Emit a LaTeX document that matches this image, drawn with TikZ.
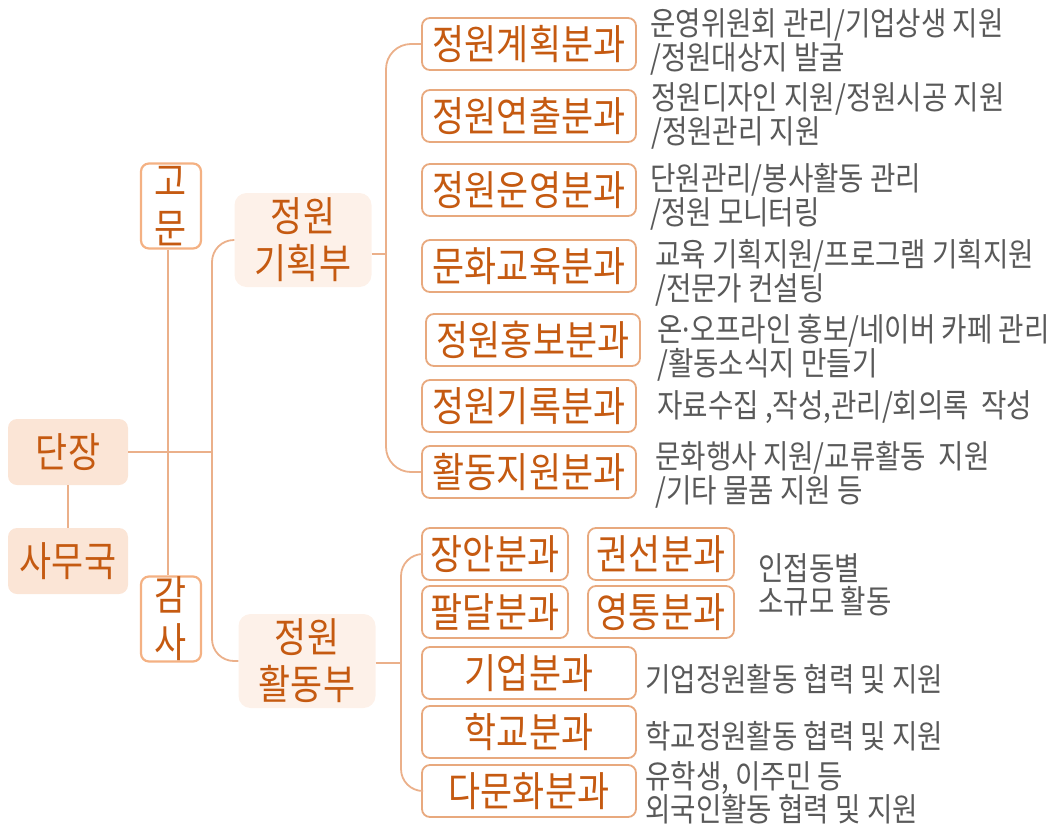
\documentclass[tikz,border=0pt]{standalone}
\usepackage{fontspec}
\setmainfont{Noto Sans CJK KR}[FakeStretch=0.85]
\newfontfamily\latinfont{Noto Sans}[FakeStretch=0.85]
\usetikzlibrary{positioning}

\definecolor{orgtext}{HTML}{C55A11}
\definecolor{chieffill}{HTML}{FBE5D6}
\definecolor{deptfill}{HTML}{FDF1E9}
\definecolor{aideline}{HTML}{F4B183}
\definecolor{unitline}{HTML}{E8A97E}
\definecolor{linkc}{HTML}{EBB08A}
\definecolor{notec}{HTML}{595959}

\newcommand\boxfont{\fontsize{41}{47}\selectfont}
\newcommand\notefont{\fontsize{32.5}{33.5}\selectfont}

\tikzset{
  link/.style={draw=linkc, line width=1.8pt},
  chief/.style={fill=chieffill, rounded corners=9pt, minimum width=120pt, minimum height=66pt, inner sep=0pt, text=orgtext, font=\boxfont},
  dept/.style={fill=deptfill, rounded corners=12pt, minimum width=137pt, minimum height=94pt, inner sep=0pt, text=orgtext, font=\boxfont, align=center},
  aide/.style={draw=aideline, line width=2.2pt, fill=white, rounded corners=8pt, minimum width=60pt, minimum height=85pt, inner sep=0pt, text=orgtext, font=\boxfont, align=center},
  unit/.style={draw=unitline, line width=1.8pt, fill=white, rounded corners=8pt, minimum width=214pt, minimum height=52pt, inner sep=0pt, text=orgtext, font=\boxfont},
  sunit/.style={unit, minimum width=146pt},
  note/.style={anchor=west, text=notec, font=\notefont, align=left, inner sep=0pt}
}

\begin{document}
\begin{tikzpicture}[x=1pt, y=-1pt]
  \useasboundingbox (0,0) rectangle (1052,825);

  % 단장, 고문, 감사
  \node[chief] (danjang) at (68,452) {단장};
  \node[chief] (samu) at (68,561) {사무국};
  \node[aide] (gomun) at (171,206) {고\\문};
  \node[aide] (gamsa) at (171,619) {감\\사};

  % 부
  \node[dept] (gihoek) at (303,240) {정원\\기획부};
  \node[dept] (hwaldong) at (307,661) {정원\\활동부};

  % 정원기획부 분과
  \node[unit] (u1) at (529,44) {정원계획분과};
  \node[unit] (u2) at (529,116) {정원연출분과};
  \node[unit] (u3) at (529,190) {정원운영분과};
  \node[unit] (u4) at (529,266) {문화교육분과};
  \node[unit] (u5) at (533,340) {정원홍보분과};
  \node[unit] (u6) at (529,406) {정원기록분과};
  \node[unit] (u7) at (529,472) {활동지원분과};

  \node[note] (n1) at (650,42) {운영위원회 관리/기업상생 지원\\/정원대상지 발굴};
  \node[note] (n2) at (651,116) {정원디자인 지원/정원시공 지원\\/정원관리 지원};
  \node[note] (n3) at (650,197) {단원관리/봉사활동 관리\\/정원 모니터링};
  \node[note] (n4) at (655,273) {교육 기획지원/프로그램 기획지원\\/전문가 컨설팅};
  \node[note] (n5) at (657,348) {온{\latinfont ·}오프라인 홍보/네이버 카페 관리\\/활동소식지 만들기};
  \node[note] (n6) at (657,407) {자료수집 ,작성,관리/회의록\ \ 작성};
  \node[note] (n7) at (655,475) {문화행사 지원/교류활동\ \ 지원\\/기타 물품 지원 등};

  % 정원활동부 분과
  \node[sunit] (s1) at (495,554) {장안분과};
  \node[sunit] (s2) at (661,554) {권선분과};
  \node[sunit] (s3) at (495,612) {팔달분과};
  \node[sunit] (s4) at (661,612) {영통분과};
  \node[unit] (u8) at (529,673) {기업분과};
  \node[unit] (u9) at (529,732) {학교분과};
  \node[unit] (u10) at (529,791) {다문화분과};

  \node[note] (n8) at (758,585) {인접동별\\소규모 활동};
  \node[note] (n9) at (645,679) {기업정원활동 협력 및 지원};
  \node[note] (n10) at (645,736) {학교정원활동 협력 및 지원};
  \node[note] (n11) at (645,793) {유학생, 이주민 등\\외국인활동 협력 및 지원};

  % 연결선
  \coordinate (ltrunk) at (212,452);
  \coordinate (rtrunk) at (386,254);
  \coordinate (btrunk) at (401,663);

  \draw[link] (danjang) -- (samu);
  \draw[link] ([xshift=-3pt]gomun.south) -- ([xshift=-3pt]gamsa.north);
  \draw[link] (danjang.east) -- (ltrunk);
  \draw[link, rounded corners=22pt] (gihoek.west) -| (ltrunk) |- (hwaldong.west);

  \draw[link] (gihoek.east |- rtrunk) -- (rtrunk);
  \draw[link, rounded corners=25pt] (u1.west) -| (rtrunk) |- (u7.west);

  \draw[link] (hwaldong.east |- btrunk) -- (btrunk);
  \draw[link, rounded corners=22pt] (s1.west) -| (btrunk) |- (u10.west);
\end{tikzpicture}
\end{document}
